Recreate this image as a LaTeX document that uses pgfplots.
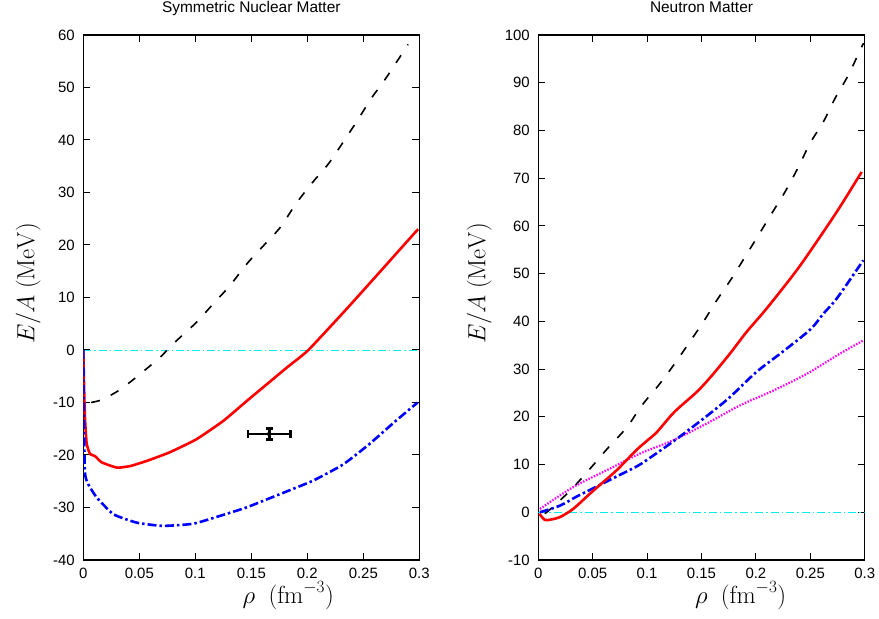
\documentclass[border=0pt]{standalone}
\usepackage[no-math]{fontspec}
\setmainfont{Liberation Sans}
\usepackage{pgfplots}
\pgfplotsset{compat=1.18}
\definecolor{cyanl}{RGB}{0,238,238}
\definecolor{mag}{RGB}{255,0,255}
\pgfplotsset{
  myaxis/.style={
    scale only axis,
    height=525bp,
    axis line style={line width=1.1bp},
    major tick style={line width=1bp,black},
    major tick length=7bp,
    tick align=inside,
    xmin=0, xmax=0.3,
    xtick={0,0.05,0.1,0.15,0.2,0.25,0.3},
    xticklabels={0,0.05,0.1,0.15,0.2,0.25,0.3},
    scaled x ticks=false,
    /pgf/number format/assume math mode=true,
    tick label style={font=\fontsize{15}{15}\selectfont},
    xticklabel style={inner sep=1bp, yshift=-7bp},
    yticklabel style={xshift=-5bp},
    label style={font=\fontsize{24}{24}\selectfont, inner sep=0bp},
    xlabel={$\rho\ \ (\mathrm{fm}^{-3})$},
    ylabel={$E/A~(\mathrm{MeV})$},
    title style={font=\fontsize{15.5}{15.5}\selectfont, at={(0.5,1)}, anchor=base, yshift=16.5bp},
    clip=true,
  },
  cblk/.style={black, line width=1.6bp, dash pattern=on 9bp off 12bp},
  cred/.style={color=red, line width=2.6bp},
  cblu/.style={color=blue, line width=2.6bp, dash pattern=on 9bp off 3bp on 2.5bp off 3bp},
  ccyn/.style={color=cyanl, line width=0.9bp, dash pattern=on 8bp off 3bp on 1.5bp off 3bp},
  cmgt/.style={color=mag, line width=2.2bp, dash pattern=on 1.5bp off 1.5bp},
}
\begin{document}
\begin{tikzpicture}
\useasboundingbox (0,0) rectangle (879bp,619bp);
% ---------------- Left: Symmetric Nuclear Matter
\begin{axis}[myaxis,
  at={(83.3bp,59bp)}, anchor=south west,
  width=336bp,
  ymin=-40, ymax=60,
  ytick={-40,-30,-20,-10,0,10,20,30,40,50,60},
  yticklabels={-40,-30,-20,-10,0,10,20,30,40,50,60},
  title={Symmetric Nuclear Matter},
  xlabel style={at={(axis description cs:0.61,0)}, anchor=base, yshift=-43.5bp},
  ylabel style={at={(axis description cs:-0.164,0.527)}, anchor=center},
]
\addplot[ccyn] coordinates {(0,0) (0.3,0)};
\addplot[cblk, smooth] coordinates {
(0.007,-10.0) (0.015,-9.6) (0.022,-8.9) (0.031,-7.8) (0.040,-6.4) (0.049,-4.9)
(0.058,-3.3) (0.068,-1.5) (0.0834,1.8) (0.0997,5.0) (0.1146,8.45) (0.131,12.3)
(0.146,16.4) (0.161,19.9) (0.176,23.4) (0.190,27.9) (0.205,32.0) (0.219,35.5)
(0.232,39.6) (0.245,43.8) (0.257,47.9) (0.269,51.4) (0.2857,56.8) (0.290,58.2)};
\addplot[cred, smooth, tension=0.3] coordinates {
(0,0) (0.0008,-8) (0.0015,-13) (0.003,-17.8) (0.006,-19.8) (0.0104,-20.2)
(0.0164,-21.4) (0.030,-22.4) (0.042,-22.1) (0.057,-21.1) (0.077,-19.5)
(0.101,-17.0) (0.125,-13.5) (0.146,-9.7) (0.164,-6.5) (0.182,-3.3) (0.201,0.0)
(0.235,7.8) (0.2645,14.8) (0.2963,22.4) (0.299,23.0)};
\addplot[cblu, smooth, tension=0.3] coordinates {
(0,0) (0.0005,-12) (0.0015,-23.4) (0.0045,-25.6) (0.012,-28.1) (0.027,-31.3)
(0.048,-32.9) (0.071,-33.5) (0.098,-33.1) (0.122,-31.6) (0.1455,-30.0)
(0.175,-27.5) (0.205,-24.9) (0.232,-21.8) (0.2555,-17.9) (0.279,-13.5) (0.2985,-10.0)};
\addplot[black, only marks, mark=none,
  error bars/.cd, x dir=both, x explicit, y dir=both, y explicit,
  error bar style={line width=2.6bp, black, solid},
  error mark options={rotate=90, black, mark size=3.5bp, line width=2.6bp}]
  coordinates {(0.166,-16) +- (0.019,1.1)};
\end{axis}
% ---------------- Right: Neutron Matter
\begin{axis}[myaxis,
  at={(538.3bp,59bp)}, anchor=south west,
  width=326.4bp,
  ymin=-10, ymax=100,
  ytick={-10,0,10,20,30,40,50,60,70,80,90,100},
  yticklabels={-10,0,10,20,30,40,50,60,70,80,90,100},
  title={Neutron Matter},
  xlabel style={at={(axis description cs:0.62,0)}, anchor=base, yshift=-43.5bp},
  ylabel style={at={(axis description cs:-0.181,0.527)}, anchor=center},
]
\addplot[ccyn] coordinates {(0,0) (0.3,0)};
\addplot[cblk, smooth] coordinates {
(0.006,-0.3) (0.0169,1.8) (0.0337,5.6) (0.049,9.5) (0.0645,13.6) (0.0814,17.8)
(0.0952,22.4) (0.1105,26.6) (0.1243,30.8) (0.138,35.3) (0.1517,39.9) (0.164,44.4)
(0.1777,49.0) (0.190,53.5) (0.2022,58.0) (0.2145,62.6) (0.2267,67.1) (0.239,72.3)
(0.2497,77.3) (0.262,81.8) (0.2727,86.7) (0.285,91.6) (0.2957,96.8) (0.299,98.3)};
\addplot[cmgt, smooth] coordinates {
(0.0015,0.7) (0.0322,5.3) (0.0628,8.8) (0.0935,12.3) (0.1241,15.1) (0.1548,18.6)
(0.1854,22.4) (0.216,25.5) (0.2467,29.0) (0.277,33.2) (0.2987,36.0)};
\addplot[cblu, smooth] coordinates {
(0.0015,0.0) (0.020,1.4) (0.0353,3.3) (0.0537,5.4) (0.072,7.5) (0.0904,9.6)
(0.100,11.0) (0.125,15.0) (0.150,19.3) (0.175,23.9) (0.200,29.3) (0.225,33.7)
(0.250,38.3) (0.262,41.6) (0.275,45.0) (0.2987,52.8)};
\addplot[cred, smooth] coordinates {
(0.001,-0.3) (0.006,-1.6) (0.012,-1.5) (0.020,-1.0) (0.032,0.7) (0.0475,3.9)
(0.058,6.0) (0.072,8.8) (0.090,13.0) (0.100,15.0) (0.109,16.8) (0.125,21.0)
(0.1456,25.2) (0.159,28.5) (0.176,33.2) (0.1915,37.8) (0.2099,42.7) (0.2375,50.7)
(0.2589,57.7) (0.2773,64.0) (0.2972,71.3)};
\end{axis}
\end{tikzpicture}
\end{document}
